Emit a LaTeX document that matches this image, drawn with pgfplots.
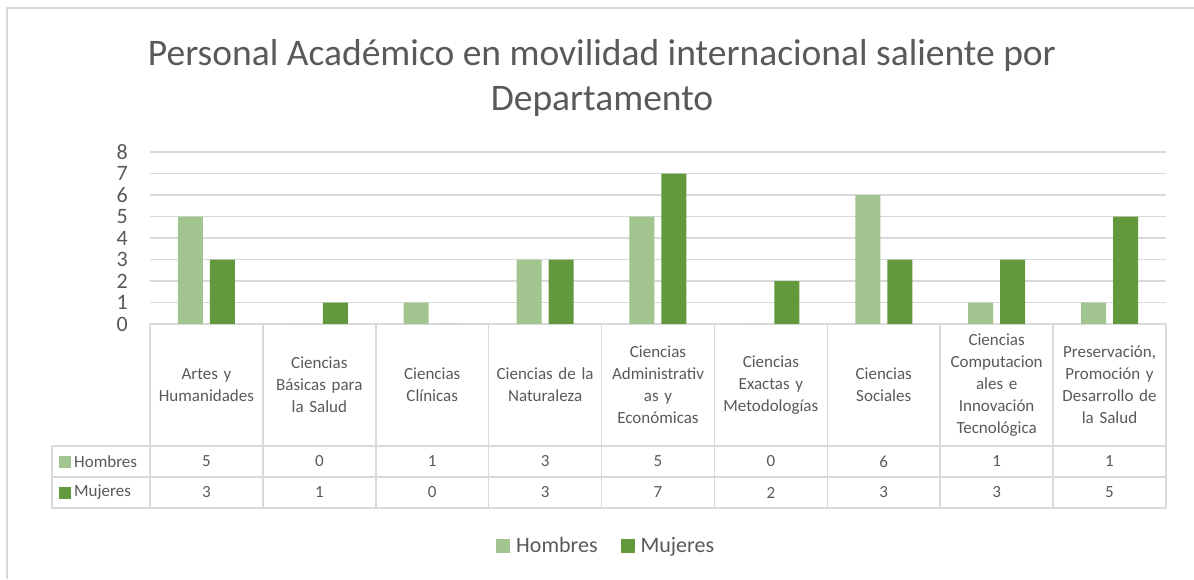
\documentclass[border=0pt]{standalone}
\usepackage{pgfplots}
\usepackage{pgfplotstable}
\pgfplotsset{compat=1.18}
\usepackage{fontspec}
\setmainfont{Carlito}
\definecolor{hcol}{HTML}{A2C58F}
\definecolor{mcol}{HTML}{63993D}
\definecolor{txt}{HTML}{595959}
\definecolor{gridc}{HTML}{D9D9D9}

\pgfplotstableread{
x h m
0 5 3
1 0 1
2 1 0
3 3 3
4 5 7
5 0 2
6 6 3
7 1 3
8 1 5
}\datatable

\begin{document}
\begin{tikzpicture}[x=1pt,y=1pt]
\useasboundingbox (0,0) rectangle (1194,579);
\draw[gridc, line width=1.5pt] (7,0) -- (7,571) -- (1194,571);
\node[txt, align=center, font=\fontsize{37.5}{45}\selectfont] at (602,501) {Personal Académico en movilidad internacional saliente por\\Departamento};
\begin{axis}[
  at={(150pt,255pt)}, anchor=south west,
  scale only axis, width=1016pt, height=172pt,
  xmin=-0.5, xmax=8.5, ymin=0, ymax=8,
  ytick={0,...,8}, xtick={0,...,8},
  clip=false,
  axis line style={draw=none},
  major tick length=0pt,
  ymajorgrids, grid style={gridc, line width=1.5pt},
  /pgf/number format/assume math mode=true,
  yticklabel style={font=\fontsize{22}{22}\selectfont, text=txt, inner sep=0pt, anchor=east, xshift=-22pt},
  xticklabels={{Artes y\\Humanidades},{Ciencias\\Básicas para\\la Salud},{Ciencias\\Clínicas},{Ciencias de la\\Naturaleza},{Ciencias\\Administrativ\\as y\\Económicas},{Ciencias\\Exactas y\\Metodologías},{Ciencias\\Sociales},{Ciencias\\Computacion\\ales e\\Innovación\\Tecnológica},{Preservación,\\Promoción y\\Desarrollo de\\la Salud}},
  xticklabel style={font=\fontsize{17}{22}\selectfont, text=txt, text width=110pt, align=center, anchor=center, inner sep=0pt, yshift=-61pt},
  legend columns=2,
  legend style={at={(0.449,-1.29)}, anchor=center, draw=none, fill=none, font=\fontsize{22}{22}\selectfont, text=txt, /tikz/every even column/.append style={column sep=21pt}},
  legend image code/.code={\path[#1] (0pt,-7pt) rectangle (14pt,7pt); \path (0pt,0pt) -- (18pt,0pt);},
]
\addplot[ybar, fill=hcol, draw=none, bar width=25pt, bar shift=-16pt] table[x=x, y=h]{\datatable};
\addlegendentry{Hombres}
\addplot[ybar, fill=mcol, draw=none, bar width=25pt, bar shift=16pt] table[x=x, y=m]{\datatable};
\addlegendentry{Mujeres}
\addplot[forget plot, draw=none, mark=none, nodes near coords, point meta=explicit,
  every node near coord/.append style={font=\fontsize{17}{17}\selectfont, text=txt, anchor=center, inner sep=0pt}]
  table[x=x, y expr=-6.395, meta=h]{\datatable};
\addplot[forget plot, draw=none, mark=none, nodes near coords, point meta=explicit,
  every node near coord/.append style={font=\fontsize{17}{17}\selectfont, text=txt, anchor=center, inner sep=0pt}]
  table[x=x, y expr=-7.837, meta=m]{\datatable};
\end{axis}
% data table grid
\foreach \k in {0,...,9} {
  \draw[gridc, line width=1.5pt] ({150+112.889*\k},255) -- ({150+112.889*\k},71);
}
\draw[gridc, line width=1.5pt] (52,133) -- (1166,133);
\draw[gridc, line width=1.5pt] (52,102) -- (1166,102);
\draw[gridc, line width=1.5pt] (52,71) -- (1166,71);
\draw[gridc, line width=1.5pt] (52,133) -- (52,71);
\fill[hcol] (59,111.5) rectangle (71,123.5);
\node[txt, anchor=west, inner sep=0pt, font=\fontsize{17}{17}\selectfont] at (74,117.5) {Hombres};
\fill[mcol] (59,80.5) rectangle (71,92.5);
\node[txt, anchor=west, inner sep=0pt, font=\fontsize{17}{17}\selectfont] at (74,86.5) {Mujeres};
\end{tikzpicture}
\end{document}
